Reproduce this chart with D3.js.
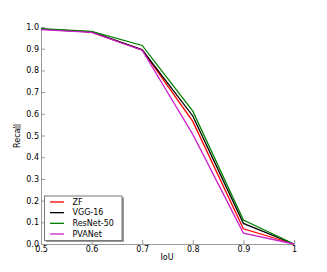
<!DOCTYPE html>
<html><head><meta charset="utf-8">
<script src="https://cdn.jsdelivr.net/npm/d3@7"></script>
<style>body{margin:0;background:#fff}svg{display:block}text{font-family:"DejaVu Sans",sans-serif}</style>
</head><body>
<script>
const iou = [0.5, 0.6, 0.7, 0.8, 0.9, 1.0];
const xTickLabels = ["0.5","0.6","0.7","0.8","0.9","1"];
const yTicks = [0,0.1,0.2,0.3,0.4,0.5,0.6,0.7,0.8,0.9,1.0];
const seriesNames = ["ZF","VGG-16","ResNet-50","PVANet"];
const seriesColors = ["#ff0000","#000000","#008000","#cc22cc"];
const zf     = [0.990, 0.976, 0.895, 0.565, 0.070, 0];
const vgg16  = [0.990, 0.978, 0.895, 0.590, 0.095, 0];
const resnet = [0.992, 0.980, 0.915, 0.612, 0.110, 0];
const pvanet = [0.988, 0.975, 0.893, 0.505, 0.050, 0];
const allSeries = [zf, vgg16, resnet, pvanet];

const W = 327, H = 272;
const svg = d3.select("body").append("svg").attr("width", W).attr("height", H);
const x = d3.scaleLinear().domain([0.5, 1]).range([41, 294]);
const y = d3.scaleLinear().domain([0, 1]).range([244, 27]);
const axisCol = "#999";

// axes
const xAxis = d3.axisBottom(x).tickValues(iou).tickFormat((d,i)=>xTickLabels[i]).tickSizeInner(-4).tickSizeOuter(0).tickPadding(2);
const gx = svg.append("g").attr("transform", `translate(0,${y(0)})`).call(xAxis);
const yAxis = d3.axisLeft(y).tickValues(yTicks).tickFormat(d3.format(".1f")).tickSizeInner(-4).tickSizeOuter(0).tickPadding(2);
const gy = svg.append("g").attr("transform", `translate(${x(0.5)},0)`).call(yAxis);
[gx, gy].forEach(g => {
  g.select(".domain").attr("stroke", axisCol).attr("stroke-width", 1);
  g.selectAll(".tick line").attr("stroke", axisCol);
  g.selectAll(".tick text").attr("fill", "#000").style("font-size", "8px").style("font-family", "DejaVu Sans");
});

// lines
const line = d3.line().x((d,i)=>x(iou[i])).y(d=>y(d));
allSeries.forEach((s, k) => {
  svg.append("path").datum(s).attr("d", line).attr("fill", "none")
    .attr("stroke", seriesColors[k]).attr("stroke-width", 1.3);
});

// axis labels
svg.append("text").attr("x", 167).attr("y", 260).attr("text-anchor", "middle")
  .style("font-size", "8px").text("IoU");
svg.append("text").attr("transform", "translate(20,136) rotate(-90)").attr("text-anchor", "middle")
  .style("font-size", "8px").text("Recall");
svg.append("rect").attr("x", 15).attr("y", 124).attr("width", 6).attr("height", 5).attr("fill", "#aaa");

// legend
const lg = svg.append("g");
lg.append("rect").attr("x", 46).attr("y", 197.5).attr("width", 78).attr("height", 44.5).attr("fill", "#999");
lg.append("rect").attr("x", 44.5).attr("y", 196).attr("width", 77.5).attr("height", 44.5).attr("fill", "#fff")
  .attr("stroke", "#777").attr("stroke-width", 1);
const ly = d3.scalePoint().domain(seriesNames).range([202, 234]);
seriesNames.forEach((n, k) => {
  lg.append("line").attr("x1", 50).attr("x2", 64).attr("y1", ly(n)).attr("y2", ly(n))
    .attr("stroke", seriesColors[k]).attr("stroke-width", 1.3);
  lg.append("text").attr("x", 72.5).attr("y", ly(n)).attr("dy", "0.35em")
    .style("font-size", "8px").text(n);
});
</script>
</body></html>
